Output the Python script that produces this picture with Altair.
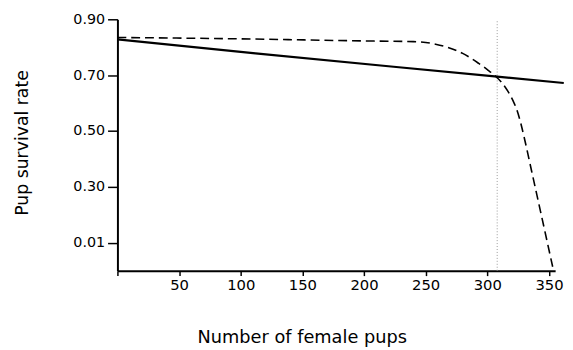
import altair as alt
import pandas as pd

# Solid line (linear decline)
solid_x = [0, 112, 224, 308, 362]
solid_y = [0.828, 0.778, 0.730, 0.695, 0.672]

# Dashed line (flat then steep drop)
dashed_x = [0, 100, 208, 240, 250, 258, 267, 280, 293, 300, 307, 312, 317, 321, 324, 327, 330, 336, 344, 353]
dashed_y = [0.835, 0.830, 0.822, 0.820, 0.817, 0.811, 0.801, 0.778, 0.742, 0.720, 0.695, 0.672, 0.640, 0.607, 0.575, 0.530, 0.475, 0.355, 0.195, 0.014]

# Vertical dotted reference
ref_x = [308]

x_ticks = [0, 50, 100, 150, 200, 250, 300, 350]
y_ticks = [0.1, 0.2, 0.3, 0.4, 0.5, 0.6, 0.7, 0.8, 0.9]

FONT = "DejaVu Sans"

solid_df = pd.DataFrame({"x": solid_x, "y": solid_y})
dashed_df = pd.DataFrame({"x": dashed_x, "y": dashed_y})
ref_df = pd.DataFrame({"x": ref_x, "y0": [0.0], "y1": [0.9]})

xscale = alt.Scale(domain=[0, 355], nice=False, zero=True)
yscale = alt.Scale(domain=[0, 0.9], nice=False, zero=True)

xaxis = alt.Axis(
    title="Number of female pups",
    values=x_ticks,
    labelExpr="datum.value == 0 ? '' : datum.label",
    grid=False,
    domainColor="black", domainWidth=2,
    tickColor="black", tickWidth=1.5, tickSize=5,
    labelFont=FONT, labelFontSize=15, labelColor="black", labelPadding=2,
    titleFont=FONT, titleFontSize=18, titleFontWeight="normal", titleColor="black",
    titleX=187, titleY=73, titleBaseline="alphabetic", titleAlign="center",
)
yaxis = alt.Axis(
    title="Pup survival rate",
    values=y_ticks,
    labelExpr="abs(datum.value - 0.1) < 0.001 ? '0.01' : (round(datum.value * 10) % 2 == 1 ? format(datum.value, '.2f') : '')",
    grid=False,
    domainColor="black", domainWidth=2,
    tickColor="black", tickWidth=1.5, tickSize=10,
    labelFont=FONT, labelFontSize=14.5, labelColor="black", labelPadding=3,
    titleFont=FONT, titleFontSize=17.5, titleFontWeight="normal", titleColor="black",
    titleAngle=270, titleX=-91, titleY=125, titleBaseline="alphabetic", titleAlign="center",
)

ref = alt.Chart(ref_df).mark_rule(color="#999999", strokeWidth=1, strokeDash=[1, 2]).encode(
    x=alt.X("x:Q", scale=xscale, axis=xaxis),
    y=alt.Y("y0:Q", scale=yscale, axis=yaxis),
    y2="y1:Q",
)

solid = alt.Chart(solid_df).mark_line(color="black", strokeWidth=2.2).encode(
    x=alt.X("x:Q", scale=xscale),
    y=alt.Y("y:Q", scale=yscale),
)

dashed = alt.Chart(dashed_df).mark_line(
    color="black", strokeWidth=1.6, strokeDash=[9, 5], interpolate="monotone"
).encode(
    x=alt.X("x:Q", scale=xscale),
    y=alt.Y("y:Q", scale=yscale),
)

chart = alt.layer(ref, solid, dashed).properties(
    width=444,
    height=255,
    autosize=alt.AutoSizeParams(type="none"),
    padding={"left": 111, "top": 9, "right": 10, "bottom": 78},
    background="white",
).configure_view(stroke=None)

chart.save("out.html", embed_options={"renderer": "svg", "actions": False})
